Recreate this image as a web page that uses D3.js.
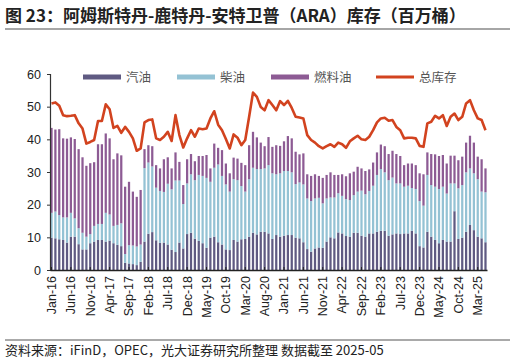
<!DOCTYPE html>
<html><head><meta charset="utf-8">
<script src="https://cdn.jsdelivr.net/npm/d3@7"></script>
<style>
body{margin:0;background:#fff;}
text{font-family:"Noto Sans CJK SC","Liberation Sans",Arial,sans-serif;}
</style></head><body>
<svg id="c" width="516" height="361"></svg>
<script>
// Months Jan-16 .. May-25
const monthNames=["Jan","Feb","Mar","Apr","May","Jun","Jul","Aug","Sep","Oct","Nov","Dec"];
const months=[];
for(let y=2016;y<=2025;y++){for(let m=0;m<12;m++){if(y===2025&&m>4)break;months.push(monthNames[m]+"-"+String(y).slice(2));}}
// 汽油 (gasoline)
const gasoline=[9.9,9.7,9.4,9.2,8.4,10.2,10.2,7.9,6.3,6.3,8.2,8.7,9.2,9.2,8.7,9.0,8.2,7.7,7.3,2.2,2.0,1.8,1.5,2.5,8.7,11.1,11.6,9.1,8.3,8.4,7.8,6.2,5.5,8.4,6.6,11.0,11.4,9.6,8.9,8.2,6.8,9.9,10.2,8.5,7.8,6.3,6.1,9.2,8.7,9.4,9.5,10.2,11.4,10.9,11.7,11.7,11.2,9.5,10.7,10.2,10.5,10.7,10.7,9.9,9.7,8.5,6.4,5.6,6.6,6.9,6.8,8.7,10.0,9.7,11.5,11.2,10.4,10.2,11.4,11.4,10.5,10.2,11.2,11.2,11.7,12.0,12.0,10.5,10.9,11.2,11.0,11.2,11.2,12.0,11.2,7.3,6.9,11.7,10.2,9.2,8.2,9.2,8.7,8.7,18.0,9.5,9.9,11.7,13.8,12.2,10.2,9.7,8.5];
// 柴油 (gasoil / diesel)
const diesel=[7.6,8.2,7.4,6.9,7.7,7.3,5.6,4.9,5.1,3.9,2.8,4.8,4.9,4.9,8.8,8.0,5.3,6.1,7.0,2.7,5.6,5.7,5.7,5.3,22.5,21.8,20.1,16.1,15.9,15.5,18.6,18.5,21.9,19.0,13.6,15.5,17.9,17.9,20.2,20.6,21.4,17.1,21.1,23.8,21.0,19.9,17.9,18.6,18.8,16.3,14.5,17.6,19.9,20.0,19.2,19.4,20.9,20.1,18.6,19.4,19.8,19.6,19.2,16.4,17.1,17.7,15.5,15.5,15.3,15.2,13.6,13.2,12.2,12.5,12.0,11.5,11.3,11.2,11.5,12.6,13.8,13.0,13.0,14.6,17.4,18.9,17.9,17.0,17.4,15.3,15.5,14.3,14.6,13.1,13.6,13.8,12.8,17.4,15.8,16.3,16.6,16.3,14.7,17.8,8.5,15.5,16.1,18.2,17.3,17.4,17.6,14.3,15.3];
// 燃料油 (fuel oil)
const fuelOil=[26.0,25.1,26.3,24.2,24.1,23.1,24.3,24.2,23.1,21.7,21.7,19.5,24.4,24.4,24.3,23.3,20.4,21.9,20.8,20.6,19.4,16.5,15.2,16.7,5.8,5.3,6.2,6.9,6.9,10.0,8.1,6.4,8.6,5.7,5.8,7.4,6.2,5.8,5.8,6.1,7.0,4.1,7.4,5.1,7.9,6.4,5.6,6.6,6.6,7.1,8.1,10.4,11.0,9.7,8.1,6.8,8.6,8.1,8.9,8.4,9.1,10.7,10.4,9.9,8.6,9.5,7.4,7.7,7.4,6.7,7.8,7.2,7.7,6.9,5.6,6.6,7.0,8.2,7.2,7.6,6.8,7.1,6.6,7.1,6.9,7.5,8.0,8.0,8.2,9.0,8.4,6.6,6.8,7.5,7.3,8.5,9.6,6.9,9.5,9.9,10.1,9.7,9.2,8.5,8.5,8.6,8.7,9.1,10.0,9.4,6.9,9.9,7.3];
// 总库存 (total stocks)
const total=[51.0,51.3,50.3,47.4,47.1,47.2,47.4,44.9,43.3,38.7,39.2,39.8,45.6,45.6,50.7,49.2,43.5,44.1,42.0,43.8,42.3,40.3,36.5,37.2,45.2,45.9,46.1,40.3,39.8,40.8,42.3,39.5,47.4,41.3,37.5,40.3,42.8,40.8,43.3,43.1,43.3,46.4,48.6,44.5,42.8,40.1,37.2,41.5,40.5,38.2,39.8,46.9,54.3,53.0,49.9,48.9,52.0,50.5,48.9,51.7,50.5,51.8,49.6,46.9,46.7,46.4,41.3,39.8,39.0,37.9,37.2,37.9,38.5,37.7,39.0,38.5,37.4,39.4,40.3,41.1,40.0,39.8,40.8,42.8,45.2,46.4,46.6,45.7,45.9,43.8,42.8,40.3,40.5,40.5,40.3,38.0,37.7,44.9,45.4,47.2,46.4,47.4,44.1,46.9,47.9,45.9,46.9,51.0,52.0,48.9,46.4,45.9,42.8];
const seriesNames=["汽油","柴油","燃料油"];
const lineName="总库存";
const yTicks=[0,10,20,30,40,50,60];
const colors={"汽油":"#5f5a82","柴油":"#94c2d4","燃料油":"#8d5b94",line:"#d2431f"};

const svg=d3.select("#c");
const M={l:50,r:487,t:74,b:270};
const x=d3.scaleBand().domain(months).range([M.l,M.r]).paddingInner(0.42).paddingOuter(0.1);
const y=d3.scaleLinear().domain([0,60]).range([M.b,M.t]);

// title
svg.append("text").attr("x",5).attr("y",22).attr("font-size",17).attr("font-weight","bold").attr("fill","#222")
 .text("图 23：阿姆斯特丹-鹿特丹-安特卫普（ARA）库存（百万桶）");
svg.append("line").attr("x1",5).attr("x2",510).attr("y1",29).attr("y2",29).attr("stroke","#888").attr("stroke-width",1.5);

// stacked bars
const table=months.map((m,i)=>({m,"汽油":gasoline[i],"柴油":diesel[i],"燃料油":fuelOil[i]}));
const stack=d3.stack().keys(seriesNames)(table);
svg.append("g").selectAll("g").data(stack).join("g").attr("fill",d=>colors[d.key])
 .selectAll("rect").data(d=>d).join("rect")
 .attr("x",d=>x(d.data.m)).attr("width",x.bandwidth())
 .attr("y",d=>y(d[1])).attr("height",d=>y(d[0])-y(d[1]));

// line
const line=d3.line().x((d,i)=>x(months[i])+x.bandwidth()/2).y(d=>y(d)).curve(d3.curveLinear);
svg.append("path").datum(total).attr("d",line).attr("fill","none").attr("stroke",colors.line).attr("stroke-width",2.6).attr("stroke-linejoin","round");

// y axis
const ya=svg.append("g").attr("transform",`translate(${M.l},0)`).call(d3.axisLeft(y).tickValues(yTicks).tickSize(3).tickPadding(6));
ya.select(".domain").attr("stroke","#333").attr("stroke-width",1.2);
ya.selectAll(".tick line").attr("stroke","#333");
ya.selectAll("text").attr("font-size",12.5).attr("fill","#222").style("font-family","'Liberation Sans',Arial,sans-serif");

// x axis
const xTickVals=months.filter((m,i)=>i%5===0);
const xa=svg.append("g").attr("transform",`translate(0,${M.b})`).call(d3.axisBottom(x).tickValues(xTickVals).tickSize(0).tickPadding(6));
xa.select(".domain").attr("stroke","#222").attr("stroke-width",1.5);
xa.selectAll(".tick").append("line").attr("y1",0).attr("y2",-3).attr("stroke","#222");
xa.selectAll("text").attr("font-size",12.5).attr("fill","#222").style("font-family","'Liberation Sans',Arial,sans-serif")
 .attr("text-anchor","end").attr("transform","rotate(-90)").attr("x",-6).attr("y",0).attr("dy","0.35em");

// legend
const leg=[{k:"汽油",x:83},{k:"柴油",x:177},{k:"燃料油",x:271},{k:lineName,x:376,line:true}];
const lg=svg.append("g");
leg.forEach(o=>{
 if(o.line){lg.append("line").attr("x1",o.x).attr("x2",o.x+38).attr("y1",77).attr("y2",77).attr("stroke",colors.line).attr("stroke-width",2.8);}
 else{lg.append("rect").attr("x",o.x).attr("y",74.5).attr("width",38).attr("height",5).attr("fill",colors[o.k]);}
 lg.append("text").attr("x",o.x+43).attr("y",81.5).attr("font-size",12.5).attr("fill","#555").text(o.k);
});

// source
svg.append("line").attr("x1",5).attr("x2",510).attr("y1",340).attr("y2",340).attr("stroke","#555").attr("stroke-width",1);
svg.append("text").attr("x",5).attr("y",355).attr("font-size",13).attr("fill","#222")
 .text("资料来源：iFinD，OPEC，光大证券研究所整理 数据截至 2025-05");
</script></body></html>
